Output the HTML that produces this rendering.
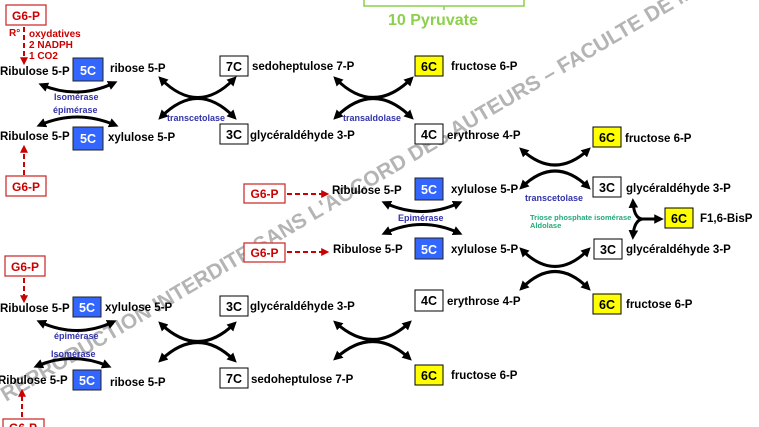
<!DOCTYPE html>
<html><head><meta charset="utf-8"><style>
html,body{margin:0;padding:0;background:#fff;}
svg{display:block;font-family:"Liberation Sans",sans-serif;font-weight:bold;}
.t{font-size:11.5px;fill:#000;}
.e{font-size:9px;fill:#3333aa;}
.r{font-size:10px;fill:#cc0000;}
.a{fill:none;stroke:#000;stroke-width:3;marker-start:url(#ah);marker-end:url(#ah);}
.d{fill:none;stroke:#cc0000;stroke-width:2;stroke-dasharray:5,3;marker-end:url(#rh);}
.bw{fill:#fff;stroke:#000;stroke-width:1;}
.bb{fill:#3366ff;stroke:#222;stroke-width:1;}
.by{fill:#ffff00;stroke:#000;stroke-width:1;}
.bt{font-size:12.5px;text-anchor:middle;fill:#000;}
.g{fill:#fff;stroke:#cc3333;stroke-width:1.3;}
</style></head><body>
<svg width="759" height="427" viewBox="0 0 759 427" xmlns="http://www.w3.org/2000/svg">
<defs>
<marker id="ah" viewBox="0 0 10 10" refX="6" refY="5" markerWidth="3.2" markerHeight="3.2" orient="auto-start-reverse"><path d="M0,0 L10,5 L0,10 z" fill="#000"/></marker>
<marker id="rh" viewBox="0 0 10 10" refX="6" refY="5" markerWidth="4" markerHeight="4" orient="auto"><path d="M0,0 L10,5 L0,10 z" fill="#cc0000"/></marker>
</defs>

<!-- watermark -->
<text x="0" y="0" transform="translate(6,402) rotate(-30.5)" style="font-size:21px;fill:#b4b4b4;font-weight:bold;">REPRODUCTION INTERDITE SANS L'ACCORD DES AUTEURS – FACULTE DE MEDECINE</text>

<!-- pyruvate bracket -->
<path d="M364,0 V6 H524 V0 M444,6 V10" fill="none" stroke="#8cd04c" stroke-width="1.5"/>
<text x="388" y="25" style="font-size:16px;fill:#8cd04c">10 Pyruvate</text>

<!-- top-left -->
<rect class="g" x="6" y="5" width="40" height="20"/><text x="26" y="20" class="bt" style="fill:#cc0000;font-size:12px">G6-P</text>
<path class="d" d="M24,27 V62"/>
<text class="r" x="9" y="36">R°</text>
<text class="r" x="29" y="37">oxydatives</text>
<text class="r" x="29" y="48">2 NADPH</text>
<text class="r" x="29" y="59">1 CO2</text>

<text class="t" x="0" y="75">Ribulose 5-P</text>
<rect class="bb" x="73" y="58" width="30" height="23"/><text class="bt" x="88" y="75" style="fill:#fff">5C</text>
<text class="t" x="110" y="72">ribose 5-P</text>
<path class="a" d="M42,85 Q78,100 114,83"/>
<text class="e" x="54" y="100">Isomérase</text>
<text class="e" x="53" y="113">épimérase</text>
<path class="a" d="M40,125 Q77,109 115,125"/>
<text class="t" x="0" y="140">Ribulose 5-P</text>
<rect class="bb" x="73" y="127" width="30" height="23"/><text class="bt" x="88" y="143" style="fill:#fff">5C</text>
<text class="t" x="108" y="141">xylulose 5-P</text>
<path class="d" d="M24,175 V148"/>
<rect class="g" x="6" y="176" width="40" height="20"/><text x="26" y="191" class="bt" style="fill:#cc0000;font-size:12px">G6-P</text>

<!-- cross 1 -->
<path class="a" d="M161,79 Q198,116 234,79"/>
<path class="a" d="M161,117 Q198,80 234,117"/>
<text class="e" x="167" y="121">transcetolase</text>
<rect class="bw" x="220" y="56" width="28" height="20"/><text class="bt" x="234" y="71">7C</text>
<text class="t" x="252" y="70">sedoheptulose 7-P</text>
<rect class="bw" x="220" y="124" width="28" height="20"/><text class="bt" x="234" y="139">3C</text>
<text class="t" x="250" y="139">glycéraldéhyde 3-P</text>

<!-- cross 2 -->
<path class="a" d="M336,79 Q373,116 411,79"/>
<path class="a" d="M336,117 Q373,80 411,117"/>
<text class="e" x="343" y="121">transaldolase</text>
<rect class="by" x="415" y="56" width="28" height="20"/><text class="bt" x="429" y="71">6C</text>
<text class="t" x="451" y="70">fructose 6-P</text>
<rect class="bw" x="415" y="124" width="28" height="20"/><text class="bt" x="429" y="139">4C</text>
<text class="t" x="447" y="139">erythrose 4-P</text>

<!-- right top -->
<path class="a" d="M522,150 Q555,180 588,150"/>
<path class="a" d="M522,187 Q555,155 588,187"/>
<text class="e" x="525" y="201">transcetolase</text>
<rect class="by" x="593" y="127" width="28" height="20"/><text class="bt" x="607" y="142">6C</text>
<text class="t" x="625" y="142">fructose 6-P</text>
<rect class="bw" x="593" y="177" width="28" height="20"/><text class="bt" x="607" y="192">3C</text>
<text class="t" x="626" y="192">glycéraldéhyde 3-P</text>

<!-- middle -->
<rect class="g" x="244" y="184" width="41" height="19"/><text x="264.5" y="198" class="bt" style="fill:#cc0000;font-size:12px">G6-P</text>
<path class="d" d="M287,194 H326"/>
<text class="t" x="332" y="194">Ribulose 5-P</text>
<rect class="bb" x="415" y="178" width="28" height="22"/><text class="bt" x="429" y="194" style="fill:#fff">5C</text>
<text class="t" x="451" y="193">xylulose 5-P</text>
<path class="a" d="M385,203 Q422,220 459,203"/>
<text class="e" x="398" y="221">Epimérase</text>
<path class="a" d="M385,233 Q422,216 459,233"/>
<rect class="g" x="244" y="243" width="41" height="19"/><text x="264.5" y="257" class="bt" style="fill:#cc0000;font-size:12px">G6-P</text>
<path class="d" d="M287,252 H326"/>
<text class="t" x="333" y="253">Ribulose 5-P</text>
<rect class="bb" x="415" y="238" width="28" height="21"/><text class="bt" x="429" y="254" style="fill:#fff">5C</text>
<text class="t" x="451" y="253">xylulose 5-P</text>

<!-- triose branch -->
<text x="530" y="220" style="font-size:7.5px;fill:#22aa77">Triose phosphate isomérase</text>
<text x="530" y="228" style="font-size:7.5px;fill:#22aa77">Aldolase</text>
<path class="a" d="M633,202 Q634,218 642,219 Q634,221 633,236"/>
<path d="M640,219 H660" stroke="#000" stroke-width="3" fill="none" marker-end="url(#ah)"/>
<rect class="by" x="665" y="208" width="28" height="20"/><text class="bt" x="679" y="223">6C</text>
<text class="t" x="700" y="222">F1,6-BisP</text>

<!-- right bottom -->
<rect class="bw" x="594" y="239" width="28" height="20"/><text class="bt" x="608" y="254">3C</text>
<text class="t" x="626" y="253">glycéraldéhyde 3-P</text>
<path class="a" d="M522,250 Q555,283 588,250"/>
<path class="a" d="M522,288 Q555,255 588,288"/>
<rect class="by" x="593" y="294" width="28" height="20"/><text class="bt" x="607" y="309">6C</text>
<text class="t" x="626" y="308">fructose 6-P</text>
<rect class="bw" x="415" y="290" width="28" height="21"/><text class="bt" x="429" y="305">4C</text>
<text class="t" x="447" y="305">erythrose 4-P</text>

<!-- bottom-left -->
<rect class="g" x="5" y="256" width="40" height="20"/><text x="25" y="271" class="bt" style="fill:#cc0000;font-size:12px">G6-P</text>
<path class="d" d="M24,278 V300"/>
<text class="t" x="0" y="312">Ribulose 5-P</text>
<rect class="bb" x="73" y="297" width="28" height="20"/><text class="bt" x="87" y="312" style="fill:#fff">5C</text>
<text class="t" x="105" y="311">xylulose 5-P</text>
<path class="a" d="M40,322 Q77,339 113,322"/>
<text class="e" x="54" y="339">épimérase</text>
<text class="e" x="51" y="357">Isomérase</text>
<path class="a" d="M37,366 Q72,351 108,366"/>
<text class="t" x="-2" y="384">Ribulose 5-P</text>
<rect class="bb" x="73" y="370" width="28" height="20"/><text class="bt" x="87" y="385" style="fill:#fff">5C</text>
<text class="t" x="110" y="386">ribose 5-P</text>
<path class="d" d="M22,417 V392"/>
<rect class="g" x="3" y="419" width="41" height="20"/><text x="23" y="432" class="bt" style="fill:#cc0000;font-size:12px">G6-P</text>

<path class="a" d="M161,324 Q198,359 234,324"/>
<path class="a" d="M161,360 Q198,325 234,360"/>
<rect class="bw" x="220" y="296" width="28" height="20"/><text class="bt" x="234" y="311">3C</text>
<text class="t" x="250" y="310">glycéraldéhyde 3-P</text>
<rect class="bw" x="220" y="368" width="28" height="20"/><text class="bt" x="234" y="383">7C</text>
<text class="t" x="251" y="383">sedoheptulose 7-P</text>

<path class="a" d="M336,323 Q373,356 409,323"/>
<path class="a" d="M336,358 Q373,325 409,358"/>
<rect class="by" x="415" y="365" width="28" height="20"/><text class="bt" x="429" y="380">6C</text>
<text class="t" x="451" y="379">fructose 6-P</text>
</svg>
</body></html>
